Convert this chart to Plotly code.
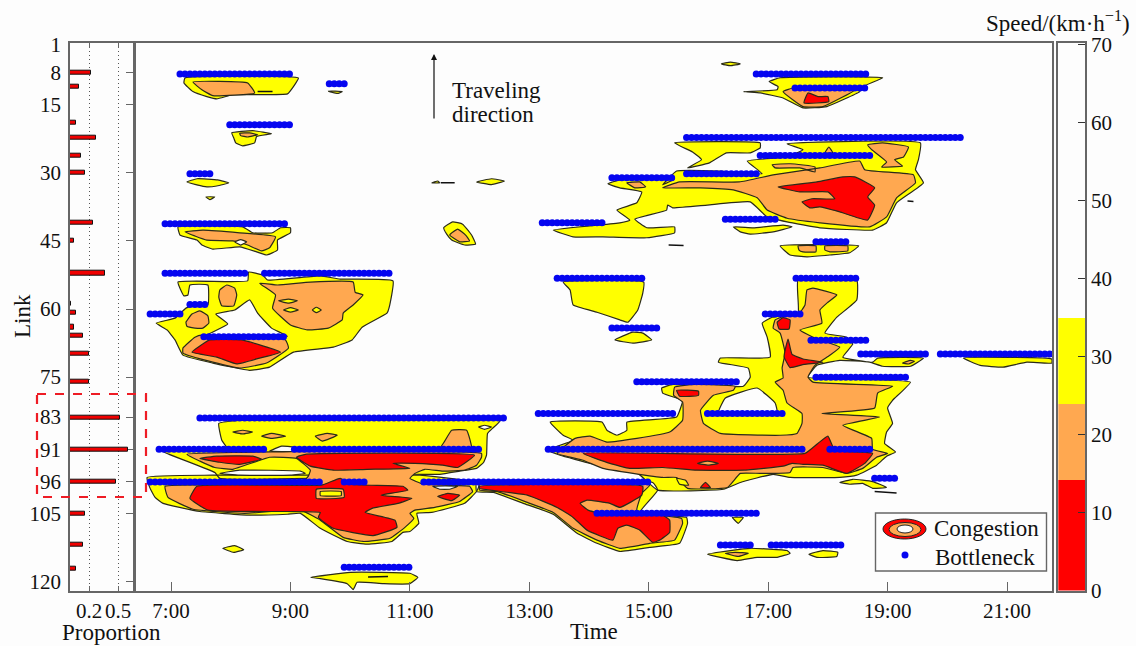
import plotly.graph_objects as go

W, H = 1136, 646

# ---- data: x = minutes after midnight, y = link position ----
yellow_regions = [
    [(434,9.1),(548,9.1),(543,11),(537,12.6),(482,12.8),(466,13.7),(456,13.2),(442,12.1),(433,10.2)],
    [(578,12),(592,12.1),(588,12.5),(580,12.2)],
    [(481,21.2),(502,20.7),(521,21.4),(506,22),(504,23.4),(492,24.05),(485,23.4),(483,22.3)],
    [(436,32),(446,31.3),(467,31.55),(478,32.2),(466,32.9),(456,33.1),(446,32.65)],
    [(455,35.3),(464,35.3),(459,35.9)],
    [(427,41.9),(492,41.9),(502,43.2),(522,43.2),(530,42.1),(540,42.1),(540,43.2),(527,44.8),(527,47),(516,48.1),(506,47.4),(489,46.3),(462,46.8),(451,45.9),(446,44.8),(429,43.7)],
    [(427,54.05),(497,53.8),(498,51.85),(512,52.5),(517,53.6),(570,52.7),(590,53.4),(643,53.8),(639,59.8),(637,60.9),(612,64),(602,66.8),(583,68.4),(543,69.5),(519,72.8),(499,73.5),(462,71.9),(432,70.15),(424,66.8),(416,64.6),(405,63.1),(424,62),(435,59.8),(441,59.3),(457,59.1),(457,54.7),(439,54.7),(437,56.9),(433,57.1)],
    [(413,91.3),(477,90.9),(471,88.9),(468,85.2),(494,84.5),(751,84.5),(743,86.3),(738,87.4),(737,92.2),(734,93.8),(727,95.1),(710,95.7),(690,96.4),(662,96.4),(560,97.3),(469,97.3),(464,96),(413,91.5)],
    [(396,97.1),(462,96.6),(562,96.6),(670,96.6),(730,98.4),(727,100.2),(715,102.8),(682,104.8),(667,105),(669,107.2),(660,109),(653,109.2),(642,111.2),(617,111.8),(597,111.2),(570,108.3),(550,105),(537,105.2),(499,105.4),(449,104.6),(412,102.8),(404,101.5),(399,99.5)],
    [(727,100.2),(744,100.4),(774,102.8),(804,105.2),(828,109.4),(848,111.6),(871,113.4),(901,112.5),(931,111.6),(939,107.2),(938,105.9),(891,104.8),(909,99.9),(904,98.2),(727,98.2)],
    [(801,84.9),(853,84.9),(858,86.7),(868,87.8),(878,86.7),(878,84.9),(928,83.8),(934,80.1),(928,79.6),(914,78.5),(913,77.4),(924,76.6),(995,77),(1002,75),(1000,73),(970,71.7),(972,70.8),(1022,70.6),(1019,66.2),(1014,63.1),(1024,61.8),(1050,60.9),(1050,53.6),(1109,53.6),(1109,58),(1089,61.8),(1077,65.3),(1099,66.2),(1105,67.7),(1095,70.6),(1125,71.7),(1130,70.8),(1176,70.8),(1163,72.6),(1135,72.6),(1122,71.7),(1092,71.3),(1069,72.4),(1060,75),(1163,76.1),(1145,80.1),(1140,81.8),(1145,85.2),(1139,87.1),(1137,89.6),(1148,91.5),(1139,92.4),(1129,94.4),(1109,96.6),(1092,97.1),(1042,97.1),(1025,96.4),(992,98.2),(975,99.7),(909,99.9),(889,96.2),(864,94.9),(841,94),(811,92.2),(798,91.1),(824,88.9),(814,87.8)],
    [(1092,98.2),(1105,97.5),(1125,98),(1139,99.3),(1125,99.5),(1115,98.4),(1102,98.6)],
    [(859,32.4),(871,31.55),(926,31.3),(914,32.65),(928,29.6),(972,29.6),(1014,30.2),(999,27.4),(1039,26.5),(1055,24.9),(1039,23.6),(1173,23.4),(1171,27.1),(1168,29.3),(1176,32.2),(1149,36.6),(1139,41),(1125,42.6),(1072,42.1),(1039,40.8),(1019,39.7),(1002,36.4),(959,37.1),(924,37.7),(919,37.1),(918,38.2),(886,40.2),(898,42.1),(926,41.9),(926,43.2),(898,44.3),(854,44.1),(824,44.1),(804,42.6),(871,41),(881,40.4),(868,38.2),(888,36.6),(893,34.2),(871,33.3)],
    [(926,23.4),(1012,23.4),(1012,24.5),(1002,25.6),(978,25.6),(961,27.8),(939,28.9),(953,27.1),(944,25.4)],
    [(985,41.9),(1005,42.1),(1035,41.5),(1044,41.9),(1025,43),(1002,43.5),(992,43)],
    [(1032,46.1),(1111,46.1),(1102,47.6),(1082,48.1),(1059,48.5),(1042,48.1)],
    [(814,54.05),(895,54.05),(894,56.5),(889,60.2),(879,62.9),(871,62.4),(848,60.7),(824,59.1),(821,55.8)],
    [(866,66.8),(884,65.1),(894,65.3),(903,66.8),(884,67.5)],
    [(1216,70.8),(1305,71),(1305,71.9),(1280,71.7),(1256,72.8),(1233,72.4)],
    [(1021,9.9),(1032,9.05),(1135,9.05),(1115,11),(1112,12.1),(1079,15.4),(1055,15.7),(1035,13.5),(1012,12.4),(995,12.1),(1029,11.7),(1030,11)],
    [(973,6),(982,5.6),(992,6),(982,6.4)],
    [(727,32),(742,31.3),(755,31.8),(742,32.6)],
    [(682,32.2),(688,31.8),(690,32.2)],
    [(694,42.1),(703,40.8),(713,41.3),(722,43.7),(726,45.7),(715,45.9),(702,44.8),(697,43.5)],
    [(984,105.9),(995,105.9),(990,107.2)],
    [(959,114),(982,113.2),(1002,112.7),(1039,113.2),(1042,113.8),(1029,114.7),(1009,114.7),(989,115.4),(972,114.7)],
    [(1061,114),(1075,113.2),(1090,113.6),(1089,114.5),(1069,114.7)],
    [(472,112.7),(484,112.1),(493,113),(483,113.6)],
    [(560,119.1),(600,118),(660,118.2),(668,119.1),(660,120.5),(633,120.5),(607,120.2),(603,121.8),(597,120.5),(570,119.4)],
]

orange_regions = [
    [(442,10),(497,10.2),(504,12.4),(462,13),(451,11.7)],
    [(489,21.3),(499,21.2),(507,21.6),(497,22.1),(490,21.8)],
    [(434,43),(452,42.6),(489,43.2),(525,44.1),(519,46.5),(511,47.2),(497,45.9),(482,45),(456,44.8),(444,43.9)],
    [(469,55.8),(476,54.7),(484,55.4),(486,56.9),(483,59.3),(471,59.3),(468,57.4)],
    [(509,54.3),(527,54.7),(560,54.05),(603,54.05),(605,56.3),(613,56.9),(603,59.1),(593,60.9),(592,62.4),(578,64.2),(557,64.6),(540,63.5),(522,59.8),(525,56.9)],
    [(435,62.9),(441,61.1),(449,60.4),(457,61.5),(458,63.1),(452,64.2),(444,64.2),(436,63.8)],
    [(432,68.6),(444,66.2),(452,65.7),(535,66.8),(538,68.6),(516,71.9),(489,73),(462,71.7),(432,69.7)],
    [(436,92),(732,91.8),(732,92.65),(727,94.4),(715,95.5),(693,95.7),(675,95.3),(665,96.2),(660,97.3),(674,98.6),(720,99.05),(723,100.2),(710,102.4),(685,103.7),(665,104.3),(660,105),(664,106.1),(655,108.1),(640,110.5),(613,111.2),(593,110.3),(570,106.5),(550,104.3),(494,105),(442,104.1),(417,101.5),(414,99.05),(550,98.6),(558,96.8),(560,95.5),(546,92.9),(519,92.65),(482,95.3),(464,94.9),(449,93.5)],
    [(690,90.9),(695,89.1),(702,86.7),(717,86.7),(722,90.9)],
    [(482,87.1),(492,86.7),(502,87.1),(492,87.5)],
    [(511,88),(521,87.4),(535,88),(521,88.5)],
    [(565,88),(577,87.4),(587,87.8),(572,89.1)],
    [(730,99.9),(748,100.2),(778,102.6),(804,104.8),(824,108.3),(848,110.9),(871,112.7),(901,111.6),(926,110.9),(934,107.2),(933,106.1),(894,105),(888,104.3),(893,100.6),(901,98.8),(730,98.4)],
    [(888,88.5),(921,87.1),(934,84.5),(934,80.5),(925,79),(926,77.2),(947,76.6),(987,77),(985,77.9),(965,79),(952,82.3),(955,85.2),(972,87.4),(1032,87.8),(1049,87.4),(1054,85.2),(1054,83),(1039,80.7),(1035,77.9),(1027,76.1),(1035,75.2),(1034,73),(1037,69.7),(1032,65.3),(1025,64.2),(1027,62.4),(1037,61.5),(1050,61.3),(1057,59.1),(1059,55.8),(1065,55.4),(1089,56.9),(1080,58.5),(1072,60.2),(1074,63.1),(1052,64.6),(1067,66.4),(1092,68.4),(1082,70.2),(1067,72.4),(1060,75),(1065,76.1),(1145,77),(1130,78.5),(1127,81.8),(1074,83),(1132,83.8),(1095,85.6),(1124,88.5),(1125,90.9),(1140,91.8),(1129,92.65),(1115,95.1),(1099,96.2),(1075,94.9),(1045,94.9),(1042,96),(1012,96.2),(992,96.2),(979,99.3),(939,99.5),(928,97.1),(914,97.1),(854,95.1),(834,93.3),(808,91.8),(826,88.5),(841,88),(858,89.3)],
    [(914,33.3),(931,32),(991,32),(1025,30.45),(1072,28.9),(1112,27.4),(1117,29.3),(1166,30.45),(1168,32.2),(1149,35.5),(1139,39.7),(1122,41.9),(1072,41),(1039,40),(1019,38.2),(1009,35.5),(985,33.75),(952,33.3)],
    [(1120,23.8),(1135,23.4),(1161,24.3),(1156,26.5),(1147,27.1),(1155,28.5),(1134,28.7),(1139,27.6),(1124,24.9)],
    [(1077,25.6),(1081,24.3),(1085,25.6)],
    [(1024,28.2),(1042,28),(1067,28.7),(1067,29.8),(1052,28.9),(1027,28.9)],
    [(878,32.2),(891,32),(897,33.1),(886,33.3)],
    [(1050,46.1),(1068,46.1),(1068,47.4),(1055,47.4),(1051,47)],
    [(1077,46.1),(1100,46.1),(1100,47.2),(1082,47.4),(1077,47)],
    [(1155,71.9),(1163,71.3),(1167,71.5),(1161,72.1)],
    [(1035,12.1),(1047,11.2),(1107,11.7),(1075,15.4),(1055,15.4)],
    [(700,43.7),(708,42.4),(716,43.7),(720,45),(710,45.2)],
    [(977,113.8),(987,113.6),(1000,113.8),(990,114.5)],
]

red_regions = [
    [(441,69.5),(459,66.8),(491,66.8),(530,69.5),(509,70.8),(486,72.1),(466,70.6)],
    [(449,92.9),(466,92.4),(502,92.4),(511,93.1),(489,94.2),(469,93.75)],
    [(546,92.65),(555,92),(725,92.2),(708,94.9),(693,94.4),(665,94),(643,94),(660,95.1),(617,95.3),(583,95.5),(560,94.6)],
    [(446,99.05),(571,98.8),(590,97.3),(600,98.6),(653,99.05),(658,99.9),(631,101),(662,101.7),(648,102.8),(622,103.9),(615,104.8),(645,106.5),(647,108.1),(623,109.9),(583,108.3),(568,105.9),(570,104.8),(537,104.6),(457,104.3),(439,101.7)],
    [(688,101.3),(698,100.6),(710,101),(702,102.2)],
    [(730,99.05),(894,99.05),(893,101),(871,103.7),(861,102.8),(838,102.1),(831,102.8),(839,104.3),(851,105),(914,105.4),(921,106.5),(921,109.2),(911,110.9),(904,111.4),(891,108.7),(878,107.6),(869,108.3),(864,110.9),(838,108.7),(824,105.9),(808,103.7),(778,101),(730,99.5)],
    [(928,77.9),(950,78.1),(950,79),(931,79.2)],
    [(834,91.8),(1057,91.8),(1070,89.6),(1080,88),(1087,91.1),(1125,91.8),(1117,94),(1099,96.2),(1075,94.4),(1055,94.2),(1044,94),(1035,94.6),(995,95.5),(948,95.5),(914,94.9),(881,95.1),(861,94)],
    [(952,99.3),(957,98.2),(962,99.3)],
    [(1030,33.1),(1069,32),(1095,30.9),(1107,30.9),(1127,33.3),(1120,35.3),(1127,37.1),(1120,40.4),(1092,38.6),(1072,37.5),(1062,37.7),(1054,36.4),(1064,35.7),(1087,35.7),(1080,34.2),(1052,34.2)],
    [(1056,14.6),(1060,12.4),(1070,13.2),(1080,13.2),(1081,14.3)],
    [(1029,62.9),(1035,61.9),(1042,62.4),(1041,64.4),(1031,64.4)],
    [(1040,66.6),(1044,70),(1055,71),(1075,71.7),(1056,72.2),(1042,72.9),(1036,70.5)],
]

orange_islands = [
    [(566,99.7),(593,99.7),(594,101.5),(566,101.7)],
    [(949,94),(959,93.5),(970,94),(960,94.4)],
]

yellow_islands = [
    [(528,58.2),(538,57.8),(547,58.2),(538,58.7)],
    [(533,60.2),(540,59.7),(548,60.2),(540,60.7)],
    [(562,60.2),(566,59.6),(571,60.2),(566,60.8)],
    [(570,100.2),(591,100.2),(591,101.1),(570,101.1)],
    [(928,97.3),(937,97.7),(940,98.8),(931,98.6)],
]

white_holes = [
    [(484,45.2),(490,44.7),(496,45.2),(490,45.9)],
    [(499,58),(507,60.9),(521,64.2),(537,66),(454,66),(477,63.3),(465,61.1),(484,60.2)],
    [(519,91.3),(531,90.2),(543,90.4),(543,91.3)],
    [(469,96.2),(489,95.5),(550,95.7),(555,96.2),(540,96.6),(489,96.6)],
    [(683,99.05),(708,99.05),(700,99.7),(690,99.7)],
    [(729,86),(735,85.6),(742,86),(735,86.5)],
    [(970,82.9),(977,79.6),(1009,77.4),(1027,80.7),(1029,82.9)],
]

dash_segments = [
    [(507,12.1),(522,12.1)],
    [(691,32.2),(705,32.2)],
    [(920,45.9),(935,46)],
    [(1160,36.2),(1166,36.3)],
    [(618,119),(638,118.9)],
    [(1127,100.2),(1149,100.5)],
]

# link position, first minute, last minute
bottleneck_spans = [
    (8.2,429,541),(10.4,579,596),(19.4,479,542),(30.2,439,461),(41.2,414,538),
    (52.1,414,497),(52.1,514,641),(59.0,439,458),(61.1,399,431),(66.1,453,537),
    (84.0,449,756),(90.9,408,516),(90.9,544,731),(98.1,399,571),(98.1,594,616),
    (98.1,674,901),(116.9,594,661),(76.0,888,992),(83.0,789,927),(83.0,959,1037),
    (90.9,799,1058),(90.9,1082,1122),(105.0,848,1012),(112.0,972,1002),(112.0,1023,1097),
    (97.3,1127,1151),(22.2,938,1216),(26.2,1012,1122),(30.2,938,1012),(31.1,863,927),
    (41.0,793,856),(40.2,977,1027),(45.2,1068,1102),(53.2,808,897),(53.2,1048,1108),
    (61.1,1017,1052),(64.2,863,912),(66.9,1063,1122),(69.9,1113,1178),(69.9,1193,1305),
    (75.0,1068,1161),(8.2,1008,1122),(11.3,1047,1117),
]

bar_links = [7.9,11.1,19,22.2,26.3,30.0,41.0,45.0,52.1,58.9,60.9,64.0,65.9,69.9,76.0,84.0,90.9,98.1,105.0,112.0,117.1]
bar_shares = [0.22,0.09,0.065,0.275,0.11,0.16,0.235,0.04,0.36,0.01,0.065,0.045,0.135,0.195,0.2,0.525,0.6,0.475,0.16,0.13,0.065]

link_tick_pos = [1.8,7.9,15,30,45,60,75,83.8,90.9,98,105,120]
link_tick_text = ["1","8","15","30","45","60","75","83","91","96","105","120"]
main_tick_pos = link_tick_pos[1:]
time_tick_pos = [420,540,660,780,900,1020,1140,1260]
time_tick_text = ["7:00","9:00","11:00","13:00","15:00","17:00","19:00","21:00"]
share_ticks = [0.2,0.5]
share_tick_text = ["0.2","0.5"]
speed_edges = [0,14.2,24,35,70.2]
speed_colors = ["#ff0000","#ffa850","#ffff00","#fdfdfd"]
speed_ticks = [0,10,20,30,40,50,60,70]

FONT = "Liberation Serif"
FRAME = "#666666"


def polygons(regions):
    xs, ys = [], []
    for region in regions:
        pts = list(region) + [region[0]]
        xs += [p[0] for p in pts] + [None]
        ys += [p[1] for p in pts] + [None]
    return xs, ys


def px(x):
    return x / W


def py(y):
    return 1 - y / H


fig = go.Figure()

for regions, color in [
    (yellow_regions, "#ffff00"),
    (orange_regions, "#ffa850"),
    (red_regions, "#ff0000"),
    (orange_islands, "#ffa850"),
    (yellow_islands, "#ffff00"),
    (white_holes, "#fdfdfd"),
]:
    xs, ys = polygons(regions)
    fig.add_trace(go.Scatter(
        x=xs, y=ys, mode="lines", fill="toself", fillcolor=color,
        line=dict(color="#2a2a1a", width=1.2, shape="spline", smoothing=0.35),
        xaxis="x", yaxis="y", hoverinfo="skip", showlegend=False,
    ))

dx, dy = [], []
for seg in dash_segments:
    dx += [p[0] for p in seg] + [None]
    dy += [p[1] for p in seg] + [None]
fig.add_trace(go.Scatter(x=dx, y=dy, mode="lines", line=dict(color="#111111", width=1.5),
                         xaxis="x", yaxis="y", hoverinfo="skip", showlegend=False))

bx, by = [], []
for link, first, last in bottleneck_spans:
    for minute in range(first, last + 1, 5):
        bx.append(minute)
        by.append(link)
fig.add_trace(go.Scatter(x=bx, y=by, mode="markers", marker=dict(color="#0505f0", size=7),
                         xaxis="x", yaxis="y", name="Bottleneck", showlegend=False))

fig.add_trace(go.Bar(x=bar_shares, y=bar_links, orientation="h", width=0.9,
                     marker=dict(color="#f00000", line=dict(color="#111111", width=1)),
                     xaxis="x2", yaxis="y2", showlegend=False))

for i, color in enumerate(speed_colors):
    fig.add_trace(go.Bar(x=["speed"], y=[speed_edges[i + 1] - speed_edges[i]], base=[speed_edges[i]],
                         width=1, marker=dict(color=color, line=dict(width=0)),
                         xaxis="x3", yaxis="y3", showlegend=False))

tick_font = dict(family=FONT, size=21, color="#111111")
frame = dict(showline=True, linecolor=FRAME, linewidth=1.6, mirror=True, zeroline=False, showgrid=False, automargin=False)


def label(x, y, text, xanchor="center", **kw):
    return dict(x=px(x), y=py(y), text=text, xanchor=xanchor, yanchor="middle", xref="paper", yref="paper",
                font=dict(family=FONT, size=23, color="#111"), showarrow=False, **kw)


annotations = [
    label(22, 316, "Link", textangle=-90),
    label(112, 632, "Proportion"),
    label(594, 631, "Time"),
    label(1058, 21, "Speed/(km·h<sup>−1</sup>)"),
    label(450, 91, "Traveling", xanchor="left"),
    label(450, 114, "direction", xanchor="left"),
    label(932, 528, "Congestion", xanchor="left"),
    label(933, 557, "Bottleneck", xanchor="left"),
    dict(x=px(434), y=py(54), ax=0, ay=66, text="", xref="paper", yref="paper", showarrow=True,
         arrowhead=2, arrowsize=1, arrowwidth=1.2, arrowcolor="#111"),
]


def rect(x0, y0, x1, y1, **kw):
    return dict(type="rect", xref="paper", yref="paper", x0=px(x0), x1=px(x1), y0=py(y0), y1=py(y1), **kw)


def oval(x0, y0, x1, y1, fill, line=None):
    return dict(type="circle", xref="paper", yref="paper", x0=px(x0), x1=px(x1), y0=py(y0), y1=py(y1),
                fillcolor=fill, line=line or dict(color="#222", width=1))


shapes = [
    rect(875.5, 513, 1046.5, 571, fillcolor="#fdfdfd", line=dict(color=FRAME, width=1.4)),
    oval(883, 519, 926, 539, "#ff0000"),
    oval(889, 522.5, 921, 536.5, "#ffa850"),
    oval(897, 525, 913, 533, "#fdfdfd"),
    oval(901.5, 551.5, 908.5, 558.5, "#0505f0", dict(width=0)),
    rect(37, 394, 146, 497, line=dict(color="#ee1c25", width=2.2, dash="dash")),
]

layout = dict(
    width=W, height=H, margin=dict(l=0, r=0, t=0, b=0), autosize=False,
    paper_bgcolor="#fdfdfd", plot_bgcolor="#fdfdfd", barmode="overlay", bargap=0,
    xaxis=dict(domain=[px(135.7), px(1052.3)], range=[384.5, 1305.5], tickvals=time_tick_pos,
               ticktext=time_tick_text, ticks="inside", ticklen=9, tickcolor=FRAME, tickwidth=1.2,
               tickfont=tick_font, anchor="y", **frame),
    yaxis=dict(domain=[py(590.5), py(42.7)], range=[122, 1.33], tickvals=main_tick_pos,
               ticks="outside", ticklen=8, tickcolor=FRAME, tickwidth=1.2, showticklabels=False,
               anchor="x", **frame),
    xaxis2=dict(domain=[px(70), px(132.5)], range=[0, 0.65], tickvals=share_ticks, ticktext=share_tick_text,
                tickfont=tick_font, ticks="inside", ticklen=5, tickcolor=FRAME, anchor="y2",
                showline=True, linecolor=FRAME, linewidth=1.6, mirror="ticks", zeroline=False, automargin=False,
                showgrid=True, gridcolor="#555555", griddash="1px,3px", gridwidth=1),
    yaxis2=dict(domain=[py(590.5), py(42.7)], range=[122, 1.33], tickvals=link_tick_pos,
                ticktext=link_tick_text, tickfont=tick_font, ticks="outside", ticklen=3,
                tickcolor="rgba(0,0,0,0)", anchor="x2", **frame),
    xaxis3=dict(domain=[px(1058.3), px(1085)], range=[-0.5, 0.5], showticklabels=False, ticks="",
                anchor="y3", type="category", **frame),
    yaxis3=dict(domain=[py(590.5), py(42.7)], range=[0, 70.2], tickvals=speed_ticks, side="right",
                ticks="inside", ticklen=7, tickcolor="#333", tickfont=tick_font, anchor="x3", **frame),
    annotations=annotations, shapes=shapes,
)
fig.update_layout(**layout)

fig.write_html("out.html", config={"displayModeBar": False},
               post_script="document.body.style.margin='0';document.body.style.overflow='hidden';")
